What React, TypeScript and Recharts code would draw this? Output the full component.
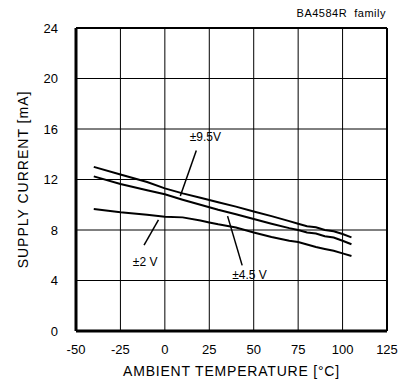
import React from "react";
import {
  LineChart,
  Line,
  XAxis,
  YAxis,
  CartesianGrid,
  ReferenceLine,
  ReferenceDot,
} from "recharts";

// ambient temperature [°C]
const temps = [-40, -25, -10, 0, 10, 20, 25, 30, 40, 50, 60, 70, 75, 80, 85, 90, 95, 100, 105];

// supply current [mA] per supply voltage
const current9v5 = [13.0, 12.4, 11.8, 11.3, 10.9, 10.55, 10.38, 10.2, 9.85, 9.47, 9.1, 8.7, 8.5, 8.3, 8.22, 8.0, 7.9, 7.68, 7.42];
const current4v5 = [12.25, 11.65, 11.15, 10.83, 10.4, 10.0, 9.8, 9.6, 9.25, 8.87, 8.5, 8.15, 8.0, 7.8, 7.72, 7.5, 7.4, 7.15, 6.87];
const current2v = [9.66, 9.4, 9.2, 9.05, 9.0, 8.75, 8.6, 8.45, 8.2, 7.8, 7.45, 7.15, 7.05, 6.85, 6.65, 6.5, 6.35, 6.15, 5.94];

const xTicks = [-50, -25, 0, 25, 50, 75, 100, 125];
const yTicks = [0, 4, 8, 12, 16, 20, 24];

const rows = temps.map((t, i) => ({
  t,
  v95: current9v5[i],
  v45: current4v5[i],
  v2: current2v[i],
}));

const FONT = "'Liberation Sans', Arial, sans-serif";

const callout = (value: string) => ({
  value,
  position: "center" as const,
  fill: "#000",
  fontSize: 12,
  fontFamily: FONT,
});

export default function App() {
  return (
    <div style={{ position: "absolute", left: 0, top: 0, background: "#fff", fontFamily: FONT }}>
      <LineChart
        width={409}
        height={388}
        data={rows}
        margin={{ top: 28, right: 22, bottom: 0, left: 0 }}
      >
        <CartesianGrid stroke="#000" strokeWidth={1} strokeOpacity={1} />
        <XAxis
          dataKey="t"
          type="number"
          domain={[-50, 125]}
          ticks={xTicks}
          height={57}
          tickLine={false}
          tickSize={0}
          tickMargin={14}
          axisLine={{ stroke: "#000", strokeWidth: 3 }}
          tick={{ fill: "#000", fontSize: 13, fontFamily: FONT }}
          label={{
            value: "AMBIENT TEMPERATURE [°C]",
            position: "insideBottom",
            offset: 12,
            fill: "#000",
            fontSize: 14,
            fontFamily: FONT,
            letterSpacing: 0.8,
          }}
        />
        <YAxis
          type="number"
          domain={[0, 24]}
          ticks={yTicks}
          width={76}
          tickLine={false}
          tickSize={0}
          tickMargin={18}
          axisLine={{ stroke: "#000", strokeWidth: 3 }}
          tick={{ fill: "#000", fontSize: 13, fontFamily: FONT }}
          label={{
            value: "SUPPLY CURRENT [mA]",
            angle: -90,
            position: "insideLeft",
            offset: 23,
            textAnchor: "middle",
            fill: "#000",
            fontSize: 14,
            fontFamily: FONT,
            letterSpacing: 1,
          }}
        />
        <ReferenceLine y={24} stroke="#000" strokeWidth={2} />
        <ReferenceLine x={125} stroke="#000" strokeWidth={2} />

        <Line dataKey="v95" stroke="#000" strokeWidth={2} dot={false} isAnimationActive={false} />
        <Line dataKey="v45" stroke="#000" strokeWidth={2} dot={false} isAnimationActive={false} />
        <Line dataKey="v2" stroke="#000" strokeWidth={2} dot={false} isAnimationActive={false} />

        {/* leader lines to the curves */}
        <ReferenceLine segment={[{ x: 17.7, y: 14.3 }, { x: 8.7, y: 10.7 }]} stroke="#000" strokeWidth={1.5} />
        <ReferenceLine segment={[{ x: -3.6, y: 8.8 }, { x: -11.7, y: 6.8 }]} stroke="#000" strokeWidth={1.5} />
        <ReferenceLine segment={[{ x: 35.3, y: 9.1 }, { x: 43.5, y: 5.2 }]} stroke="#000" strokeWidth={1.5} />

        <ReferenceDot x={22.8} y={15.4} r={1} fill="none" stroke="none" label={callout("±9.5V")} />
        <ReferenceDot x={-11.1} y={5.5} r={1} fill="none" stroke="none" label={callout("±2 V")} />
        <ReferenceDot x={47.6} y={4.45} r={1} fill="none" stroke="none" label={callout("±4.5 V")} />

        <text
          x={386}
          y={17}
          textAnchor="end"
          fill="#000"
          fontSize={11}
          fontFamily={FONT}
          letterSpacing={0.5}
          style={{ whiteSpace: "pre" }}
        >
          {"BA4584R  family"}
        </text>
      </LineChart>
    </div>
  );
}
